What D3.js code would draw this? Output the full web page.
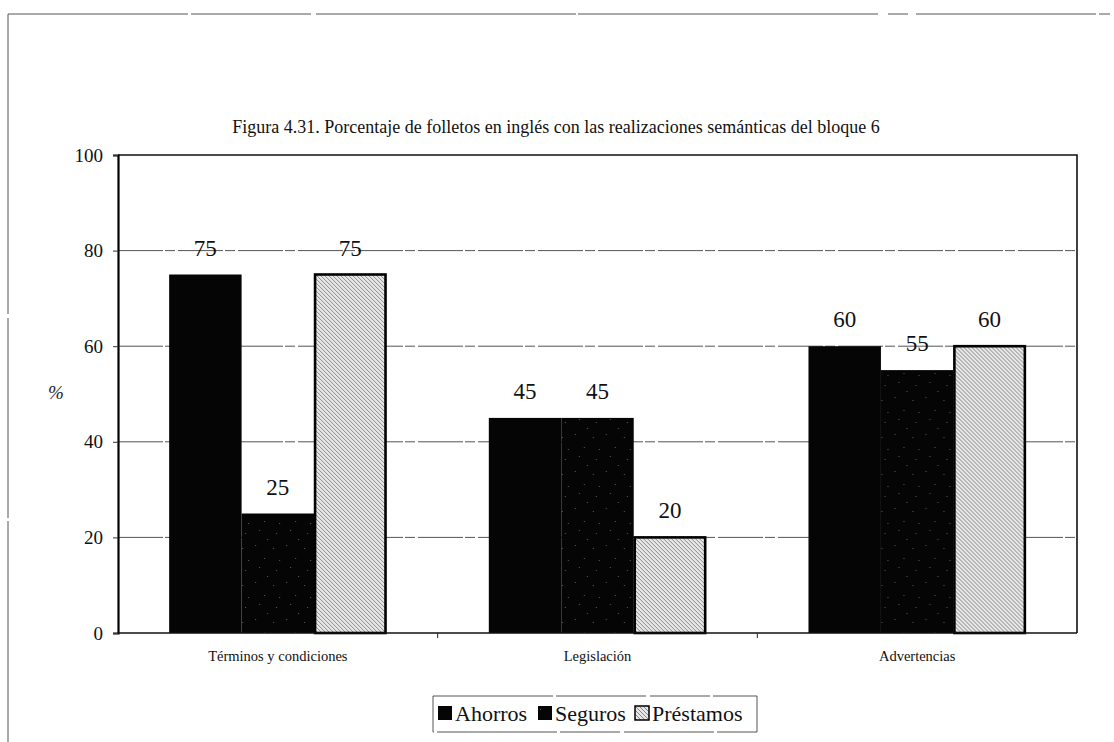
<!DOCTYPE html>
<html>
<head>
<meta charset="utf-8">
<script src="https://cdn.jsdelivr.net/npm/d3@7"></script>
<style>
  html, body { margin: 0; padding: 0; background: #fff; }
  svg { display: block; }
  svg text { font-family: "Liberation Serif", "Times New Roman", serif; }
</style>
</head>
<body>
<svg id="chart" width="1114" height="742"></svg>
<script>
// Chart data
const categories = ["Términos y condiciones", "Legislación", "Advertencias"];
const seriesNames = ["Ahorros", "Seguros", "Préstamos"];
const ahorros = [75, 45, 60];
const seguros = [25, 45, 55];
const prestamos = [75, 20, 60];
const yTicks = [0, 20, 40, 60, 80, 100];
const titleText = "Figura 4.31. Porcentaje de folletos en inglés con las realizaciones semánticas del bloque 6";
const yAxisLabel = "%";

const SERIF = "Liberation Serif, Times New Roman, serif";
const seriesValues = [ahorros, seguros, prestamos];
const rows = categories.map((c, i) => ({
  category: c,
  values: seriesNames.map((s, j) => ({ series: s, value: seriesValues[j][i] }))
}));

const svg = d3.select("#chart");
const plot = { left: 118, right: 1077, top: 155, bottom: 633 };

// Patterns for the three series
const defs = svg.append("defs");
const speck = defs.append("pattern")
  .attr("id", "pat-seguros").attr("patternUnits", "userSpaceOnUse")
  .attr("width", 31).attr("height", 37);
speck.append("rect").attr("width", 31).attr("height", 37).attr("fill", "#050505");
[[2,3],[17,5],[5,21],[24,27],[28,12],[11,30],[14,15]]
  .forEach(([x, y]) => speck.append("rect").attr("x", x).attr("y", y)
    .attr("width", 1).attr("height", 1).attr("fill", "#5a5a5a"));

const hatch = defs.append("pattern")
  .attr("id", "pat-prestamos").attr("patternUnits", "userSpaceOnUse")
  .attr("width", 4).attr("height", 4);
hatch.append("rect").attr("width", 4).attr("height", 4).attr("fill", "#e8e8e8");
hatch.append("path").attr("d", "M-1,-1 L5,5 M-1,3 L1,5 M3,-1 L5,1")
  .attr("stroke", "#7a7a7a").attr("stroke-width", 0.9);

const fills = { "Ahorros": "#050505", "Seguros": "url(#pat-seguros)", "Préstamos": "url(#pat-prestamos)" };

// Outer frame
svg.append("line").attr("x1", 8).attr("x2", 1110).attr("y1", 14).attr("y2", 14)
  .attr("stroke", "#555").attr("stroke-width", 1).attr("stroke-dasharray", "180,3,120,5,260,2,300,10,20,8");
svg.append("line").attr("x1", 8).attr("x2", 8).attr("y1", 14).attr("y2", 742)
  .attr("stroke", "#555").attr("stroke-width", 1).attr("stroke-dasharray", "300,4,200,3");

// Title
svg.append("text").attr("x", 556).attr("y", 133)
  .attr("text-anchor", "middle").attr("font-size", 18).attr("fill", "#111")
  .attr("font-family", SERIF)
  .text(titleText);

// Scales
const x0 = d3.scaleBand().domain(categories).range([plot.left, plot.right])
  .paddingInner(0.32).paddingOuter(0.16);
const x1 = d3.scaleBand().domain(seriesNames).range([0, x0.bandwidth()]);
const y = d3.scaleLinear().domain([0, 100]).range([plot.bottom, plot.top]);

// Gridlines
svg.append("g").selectAll("line").data(yTicks.filter(t => t > 0 && t < 100)).join("line")
  .attr("x1", plot.left).attr("x2", plot.right)
  .attr("y1", d => y(d)).attr("y2", d => y(d))
  .attr("stroke", "#555").attr("stroke-width", 1).attr("stroke-dasharray", "45,2,10,3");

// Plot border (top and right)
svg.append("path")
  .attr("d", `M${plot.left},${plot.top} H${plot.right} V${plot.bottom}`)
  .attr("fill", "none").attr("stroke", "#111").attr("stroke-width", 1.6);

// Bars
const groups = svg.append("g").selectAll("g").data(rows).join("g")
  .attr("transform", d => `translate(${x0(d.category)},0)`);
groups.selectAll("rect").data(d => d.values).join("rect")
  .attr("x", d => x1(d.series) + (d.series === "Préstamos" ? 1 : 0))
  .attr("width", d => x1.bandwidth() - (d.series === "Préstamos" ? 2 : 0))
  .attr("y", d => y(d.value))
  .attr("height", d => y(0) - y(d.value))
  .attr("fill", d => fills[d.series])
  .attr("stroke", d => d.series === "Préstamos" ? "#000" : "none")
  .attr("stroke-width", 2.6);

// Value labels
groups.selectAll("text").data(d => d.values).join("text")
  .attr("x", d => x1(d.series) + x1.bandwidth() / 2)
  .attr("y", d => y(d.value) - 19)
  .attr("text-anchor", "middle").attr("font-size", 23).attr("fill", "#111")
  .attr("font-family", SERIF)
  .text(d => d.value);

// Y axis
const yAxis = svg.append("g").attr("transform", `translate(${plot.left},0)`)
  .call(d3.axisLeft(y).tickValues(yTicks).tickSize(5).tickPadding(10));
yAxis.attr("font-family", SERIF);
yAxis.select(".domain").attr("stroke", "#000").attr("stroke-width", 2.2);
yAxis.selectAll(".tick line").attr("stroke", "#333");
yAxis.selectAll(".tick text").attr("font-size", 19).attr("fill", "#111")
  .attr("font-family", SERIF);

svg.append("text").attr("x", 56).attr("y", 399)
  .attr("text-anchor", "middle").attr("font-size", 19).attr("font-style", "italic")
  .attr("font-family", SERIF)
  .attr("fill", "#222").text(yAxisLabel);

// X axis line and category boundary ticks
svg.append("line").attr("x1", plot.left).attr("x2", plot.right)
  .attr("y1", plot.bottom).attr("y2", plot.bottom)
  .attr("stroke", "#111").attr("stroke-width", 1.6);
const step = x0.step();
svg.append("g").selectAll("line").data(categories.slice(1)).join("line")
  .attr("x1", d => x0(d) - step * x0.paddingInner() / 2)
  .attr("x2", d => x0(d) - step * x0.paddingInner() / 2)
  .attr("y1", plot.bottom).attr("y2", plot.bottom + 5)
  .attr("stroke", "#222").attr("stroke-width", 1);
svg.append("g").selectAll("text").data(categories).join("text")
  .attr("x", d => x0(d) + x0.bandwidth() / 2).attr("y", 661)
  .attr("text-anchor", "middle").attr("font-size", 14.5).attr("fill", "#111")
  .attr("font-family", SERIF)
  .text(d => d);

// Legend
const legend = svg.append("g");
legend.append("rect").attr("x", 433).attr("y", 696).attr("width", 324).attr("height", 36)
  .attr("fill", "none").attr("stroke", "#555").attr("stroke-width", 1)
  .attr("stroke-dasharray", "120,3,90,4,60,3");
const legendX = [438, 538, 635];
const legendItems = legend.selectAll("g").data(seriesNames).join("g")
  .attr("transform", (d, i) => `translate(${legendX[i]},706)`);
legendItems.append("rect").attr("width", 14).attr("height", 14)
  .attr("fill", d => fills[d])
  .attr("stroke", "#000").attr("stroke-width", d => d === "Préstamos" ? 1.5 : 0);
legendItems.append("text").attr("x", 17).attr("y", 15)
  .attr("font-size", 22).attr("fill", "#111")
  .attr("font-family", SERIF)
  .text(d => d);
</script>
</body>
</html>
